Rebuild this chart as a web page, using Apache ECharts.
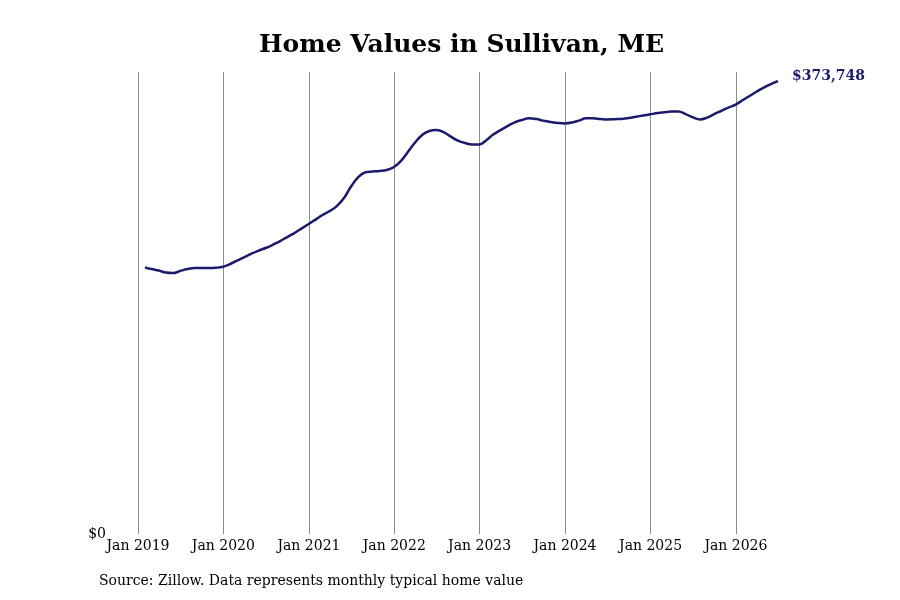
<!DOCTYPE html>
<html>
<head>
<meta charset="utf-8">
<title>Home Values in Sullivan, ME</title>
<script src="https://cdn.jsdelivr.net/npm/echarts@6/dist/echarts.min.js"></script>
<style>
    html, body {margin: 0; padding: 0; background: #fff;}
    #chart {width: 900px; height: 600px;}
</style>
</head>
<body>
<div id="chart"></div>
<script>
// monthly typical home value, end of month, Jan 2019 .. Jun 2026
var firstYear = 2019;
var firstMonth = 0;
var homeValues = [
    219900, 218600, 217400, 215700, 215300, 217000, 218600, 219500, 219500, 219500, 219700, 220500,
    222800, 225600, 228500, 231300, 233900, 236000, 238700, 241700, 245000, 248300, 252000, 255800,
    259600, 263200, 266500, 270600, 277200, 286700, 294500, 298500, 299100, 299500, 300300, 302800,
    308100, 315200, 323000, 329200, 332500, 333300, 331700, 327900, 324600, 322600, 321500, 321500,
    325100, 329600, 333300, 336600, 339700, 341600, 343000, 342400, 341100, 339900, 339200, 338800,
    339500, 341100, 343000, 343000, 342500, 342100, 342300, 342500, 343200, 344300, 345300, 346300,
    347300, 348000, 348600, 348600, 346500, 344000, 342100, 343600, 346500, 349200, 351900, 354300,
    358100, 361400, 365100, 368400, 371300, 373748
];
var titleText = 'Home Values in Sullivan, ME';
var sourceText = 'Source: Zillow. Data represents monthly typical home value';

var lineColor = '#1b1a6b';
var serif = '"DejaVu Serif", "Liberation Serif", serif';

function eachItem(arr, fn) {
    for (var i = 0; i < arr.length; i++) fn(i, arr[i]);
}

// pair each value with the last day of its month
var seriesData = [];
eachItem(homeValues, function (i, v) {
    var d = new Date(firstYear, firstMonth + i + 1, 0);
    seriesData.push([d.getTime(), v]);
});

var maxValue = Math.max.apply(null, homeValues);

function money(v) {
    return '$' + Math.round(v).toString().replace(/\B(?=(\d{3})+(?!\d))/g, ',');
}

var myChart = echarts.init(document.getElementById('chart'));
var yearMs = 365 * 24 * 3600 * 1000;

var option = {
    animation: false,
    backgroundColor: '#fff',
    grid: {
        left: 138,
        right: 122,
        top: 72,
        bottom: 66
    },
    graphic: [
        {
            type: 'text',
            left: 259,
            top: 33,
            style: {
                text: titleText,
                font: 'bold 25px ' + serif,
                fill: '#000'
            }
        },
        {
            type: 'text',
            left: 99,
            top: 574,
            style: {
                text: sourceText,
                font: '14px ' + serif,
                fill: '#000'
            }
        }
    ],
    xAxis: {
        type: 'time',
        min: new Date(firstYear, 0, 1).getTime(),
        max: seriesData[seriesData.length - 1][0],
        minInterval: yearMs,
        maxInterval: yearMs * 1.01,
        axisLine: {show: false},
        axisTick: {show: false},
        splitLine: {
            show: true,
            showMaxLine: false,
            lineStyle: {color: '#8c8c8c', width: 1}
        },
        axisLabel: {
            fontFamily: serif,
            fontSize: 14,
            color: '#000',
            margin: 5,
            hideOverlap: false,
            formatter: function (val) {
                var d = new Date(val);
                if (d.getMonth() !== 0) return '';
                return 'Jan ' + d.getFullYear();
            }
        }
    },
    yAxis: {
        type: 'value',
        min: 0,
        max: maxValue * 1.02,
        interval: maxValue * 1.02,
        splitLine: {show: false},
        axisLine: {show: false},
        axisTick: {show: false},
        axisLabel: {
            fontFamily: serif,
            fontSize: 14,
            color: '#000',
            margin: 32,
            verticalAlign: 'top',
            padding: [-7, 0, 0, 0],
            formatter: function (val) {
                return val === 0 ? '$0' : '';
            }
        }
    },
    series: [
        {
            name: 'Home value',
            type: 'line',
            data: seriesData,
            smooth: 0.4,
            showSymbol: false,
            lineStyle: {color: lineColor, width: 2.5},
            endLabel: {
                show: true,
                distance: 14,
                offset: [0, -5],
                fontFamily: serif,
                fontSize: 14,
                fontWeight: 'bold',
                color: lineColor,
                formatter: function (p) {
                    return money(p.value[1]);
                }
            }
        }
    ]
};

myChart.setOption(option);
</script>
</body>
</html>
